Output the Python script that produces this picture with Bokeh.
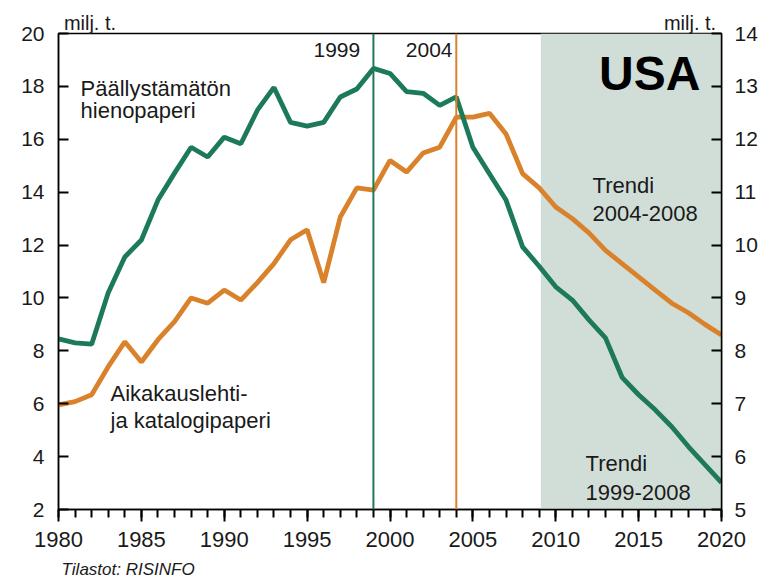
from bokeh.plotting import figure
from bokeh.models import (Range1d, LinearAxis, SingleIntervalTicker, Span, BoxAnnotation, Label,
                          FixedTicker, CustomJSTickFormatter)
from bokeh.embed import file_html
from bokeh.resources import INLINE

# ---- data ----
years = list(range(1980, 2021))
# Päällystämätön hienopaperi (left axis, milj. t.)
green = [8.45, 8.3, 8.25, 10.2, 11.55, 12.19, 13.7, 14.72, 15.7, 15.33,
         16.08, 15.83, 17.1, 17.96, 16.64, 16.5, 16.64, 17.6, 17.9, 18.68,
         18.49, 17.8, 17.74, 17.28, 17.6, 15.7, 14.7, 13.7, 11.93, 11.2,
         10.42, 9.92, 9.17, 8.49, 7.0, 6.34, 5.77, 5.13, 4.38, 3.7, 3.02]
# Aikakauslehti- ja katalogipaperi (right axis, milj. t.)
orange = [6.98, 7.04, 7.17, 7.7, 8.17, 7.79, 8.21, 8.55, 9.0, 8.9,
          9.15, 8.96, 9.29, 9.65, 10.1, 10.29, 9.29, 10.53, 11.08, 11.04,
          11.6, 11.38, 11.74, 11.85, 12.42, 12.42, 12.49, 12.1, 11.35, 11.08,
          10.72, 10.5, 10.23, 9.9, 9.65, 9.4, 9.15, 8.9, 8.72, 8.5, 8.3]
left_ticks = [2, 4, 6, 8, 10, 12, 14, 16, 18, 20]
right_ticks = [5, 6, 7, 8, 9, 10, 11, 12, 13, 14]
unit_label = "milj. t."
source_label = "Tilastot: RISINFO"
green_mark_year = 1999
orange_mark_year = 2004
shade_start = 2009.1
shade_end = 2020

GREEN = "#1d7a59"
ORANGE = "#d9822b"
SHADE = "#d1ded7"
FONT = "Liberation Sans"

p = figure(width=769, height=581, output_backend="svg", toolbar_location=None,
           x_range=Range1d(1980, 2020), y_range=Range1d(2, 20),
           min_border_left=58, min_border_right=48, min_border_top=33, min_border_bottom=71)
p.extra_y_ranges = {"right": Range1d(5, 14)}
p.grid.visible = False
p.outline_line_color = "black"
p.outline_line_width = 1.5
p.background_fill_color = "white"
p.border_fill_color = "white"

# shaded forecast area and marker lines
p.add_layout(BoxAnnotation(left=shade_start, right=shade_end, fill_color=SHADE, fill_alpha=1.0,
                           line_alpha=0, level="underlay"))
p.add_layout(Span(location=green_mark_year, dimension="height", line_color=GREEN, line_width=2))
p.add_layout(Span(location=orange_mark_year, dimension="height", line_color=ORANGE, line_width=2))

p.line(years, orange, y_range_name="right", line_color=ORANGE, line_width=4.8)
p.line(years, green, line_color=GREEN, line_width=4.8)

def style(ax):
    ax.axis_line_color = "black"
    ax.axis_line_width = 1.5
    ax.major_tick_line_color = "black"
    ax.major_tick_line_width = 2
    ax.minor_tick_line_color = "black"
    ax.minor_tick_line_width = 2
    ax.major_label_text_font = FONT
    ax.major_label_text_font_size = "21px"
    ax.major_label_text_color = "#1a1a1a"

xa = p.xaxis[0]
xa.ticker = SingleIntervalTicker(interval=5, num_minor_ticks=5)
style(xa)
xa.major_label_text_font_size = "22px"
xa.major_tick_in = 0
xa.major_tick_out = 12
xa.minor_tick_in = 0
xa.minor_tick_out = 8
xa.major_label_standoff = 10

# (for the vertical axes tick_in draws on the outer side in this renderer)
ya = p.yaxis[0]
ya.ticker = FixedTicker(ticks=left_ticks)
style(ya)
ya.major_tick_in = 10
ya.major_tick_out = 0
ya.minor_tick_out = 0
ya.minor_tick_in = 0
ya.major_label_standoff = 14

ra = LinearAxis(y_range_name="right", ticker=FixedTicker(ticks=right_ticks))
style(ra)
ra.major_tick_in = 10
ra.major_tick_out = 0
ra.minor_tick_out = 0
ra.minor_tick_in = 0
ra.major_label_standoff = 13
p.add_layout(ra, "right")

# unit texts above the frame
ta = LinearAxis(ticker=FixedTicker(ticks=[1981.9, 2018.1]),
                formatter=CustomJSTickFormatter(code="return %r;" % unit_label))
ta.axis_line_alpha = 0
ta.major_tick_out = 0
ta.major_tick_in = 0
ta.minor_tick_out = 0
ta.minor_tick_in = 0
ta.major_label_standoff = 0
ta.major_label_text_font = FONT
ta.major_label_text_font_size = "20px"
ta.major_label_text_color = "#1a1a1a"
p.add_layout(ta, "above")

# source text below the x axis
sa = LinearAxis(ticker=FixedTicker(ticks=[1984.2]),
                formatter=CustomJSTickFormatter(code="return %r;" % source_label))
sa.axis_line_alpha = 0
sa.major_tick_out = 0
sa.major_tick_in = 0
sa.minor_tick_out = 0
sa.minor_tick_in = 0
sa.major_label_standoff = 10
sa.major_label_text_font = FONT
sa.major_label_text_font_size = "17px"
sa.major_label_text_font_style = "italic"
sa.major_label_text_color = "#1a1a1a"
p.add_layout(sa, "below")

def lab(x, y, text, size="22px", align="left", style_="normal", color="#1a1a1a"):
    p.add_layout(Label(x=x, y=y, text=text, text_font=FONT, text_font_size=size,
                       text_align=align, text_baseline="middle", text_color=color,
                       text_font_style=style_))

lab(1998.2, 19.37, "1999", size="21px", align="right")
lab(2003.77, 19.37, "2004", size="21px", align="right")
lab(2018.73, 18.47, "USA", size="48px", align="right", style_="bold", color="black")
lab(1981.33, 17.91, "Päällystämätön")
lab(1981.33, 17.09, "hienopaperi")
lab(1983.14, 6.38, "Aikakauslehti-")
lab(1983.14, 5.38, "ja katalogipaperi")
lab(2012.22, 14.26, "Trendi")
lab(2012.22, 13.19, "2004-2008")
lab(2011.8, 3.74, "Trendi")
lab(2011.8, 2.66, "1999-2008")

open("out.html", "w").write(file_html(p, INLINE))
